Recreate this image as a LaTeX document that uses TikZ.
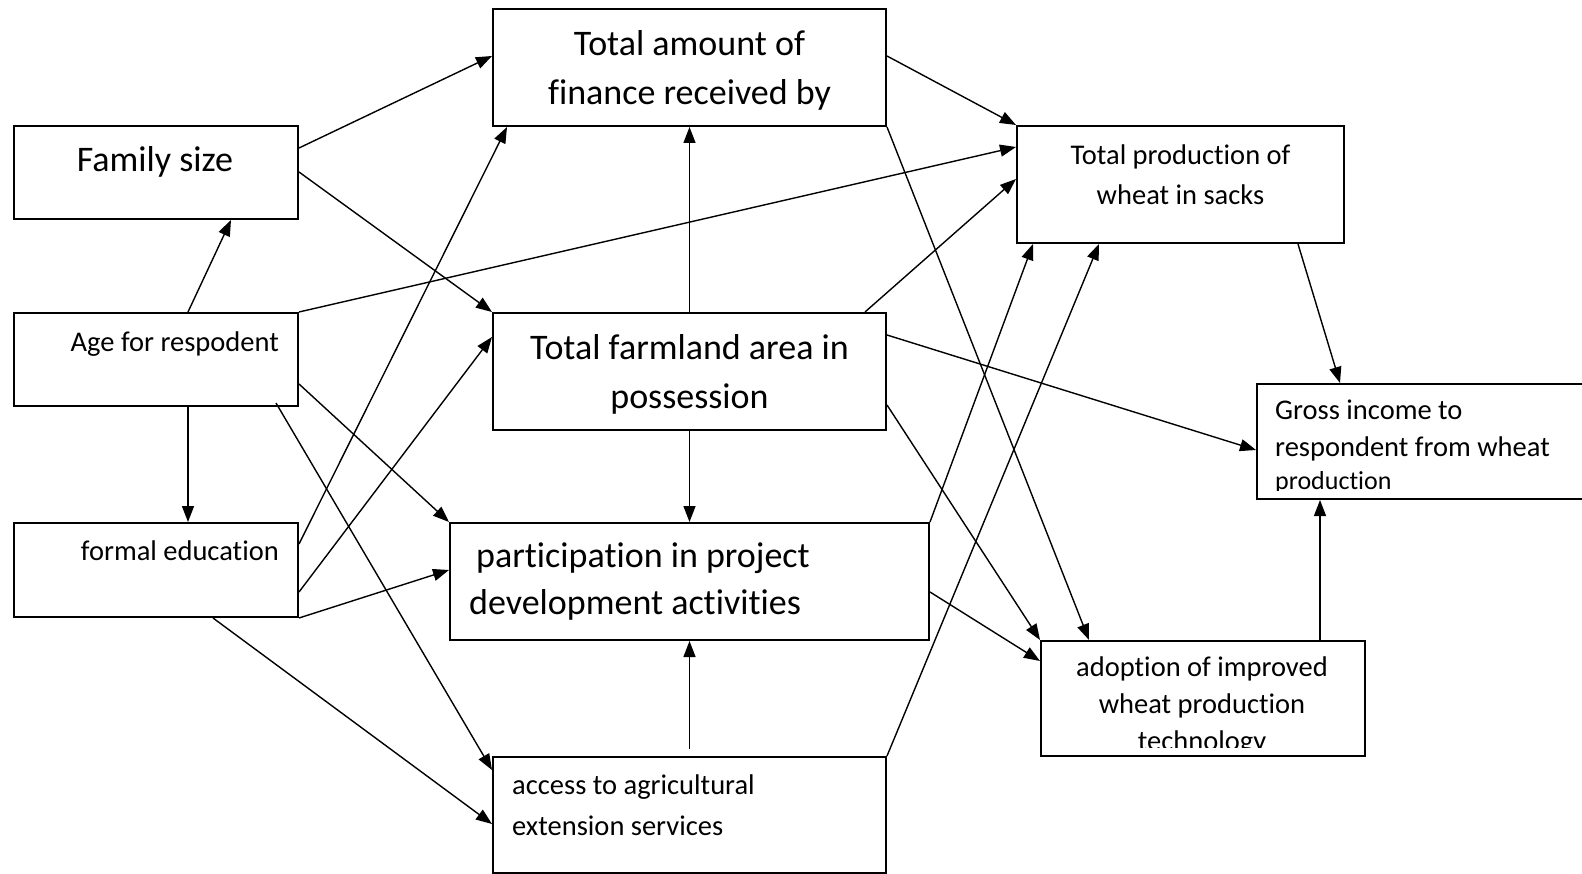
\documentclass[tikz,border=0pt]{standalone}
\usepackage{fontspec}
\setmainfont{Carlito}[Ligatures = NoCommon]
\usetikzlibrary{positioning, calc, arrows.meta}
\tikzstyle{pixels} = [x = 1pt, y = -1pt]
\tikzstyle{boxStyle} = [draw, line width = 2pt, inner sep = 0pt]
\tikzstyle{linkStyle} = [line width = 1.4pt, -{Triangle[length = 16pt, width = 12pt]}]
\tikzstyle{bigText} = [font = \fontsize{36}{49}\selectfont, inner sep = 0pt]
\tikzstyle{smallText} = [font = \fontsize{28.5}{39}\selectfont, inner sep = 0pt]
\newcommand{\variableBox}[5]{\node [boxStyle, minimum width = #4pt, minimum height = #5pt] (#1) at (#2, #3) {};}
\newcommand{\causalLink}[2]{\draw [linkStyle] (#1) -- (#2);}

\begin{document}
\begin{tikzpicture}[pixels]
  \useasboundingbox (0,0) rectangle (1582,874);
  % boxes
  \variableBox{fam}{156}{172.5}{284}{93}
  \variableBox{age}{156}{359.5}{284}{93}
  \variableBox{edu}{156}{570}{284}{94}
  \variableBox{fin}{689.5}{67.5}{393}{117}
  \variableBox{farm}{689.5}{371.5}{393}{117}
  \variableBox{part}{689.5}{581.5}{479}{117}
  \variableBox{ext}{689.5}{815}{393}{116}
  \variableBox{prod}{1180.5}{184.5}{327}{117}
  \variableBox{gross}{1424.5}{441.5}{335}{115}
  \variableBox{adopt}{1203}{698.5}{324}{115}

  % texts (base = baseline of the last line)
  \node [bigText, anchor = base] (famText) at ($(fam.north)+(-1,47)$) {Family size};
  \node [smallText, anchor = base east] (ageText) at ($(age.north east)+(-20,40)$) {Age for respodent};
  \node [smallText, anchor = base east] (eduText) at ($(edu.north east)+(-20,38)$) {formal education};
  \node [bigText, anchor = base, align = center] (finText) at ($(fin.north)+(0,97)$) {Total amount of\\finance received by};
  \node [bigText, anchor = base, align = center] (farmText) at ($(farm.north)+(0,97)$) {Total farmland area in\\possession};
  \node [bigText, anchor = base west, align = left, font = \fontsize{36}{47}\selectfont] (partText) at ($(part.north west)+(20,92)$) {\hspace{7pt}participation in project\\development activities};
  \node [smallText, anchor = base west, align = left, font = \fontsize{28.5}{41}\selectfont] (extText) at ($(ext.north west)+(20,79)$) {access to agricultural\\extension services};
  \node [smallText, anchor = base, align = center, font = \fontsize{28.5}{40}\selectfont] (prodText) at ($(prod.north)+(0,80)$) {Total production of\\wheat in sacks};
  \begin{scope}
    \clip (gross.north west) rectangle ($(gross.south east)+(0,-10)$);
    \node [smallText, anchor = base west, align = left, font = \fontsize{28.5}{33}\selectfont] (grossText) at ($(gross.north west)+(19,106)$) {Gross income to\\[4pt]respondent from wheat\\\fontsize{26}{33}\selectfont production};
  \end{scope}
  \begin{scope}
    \clip (adopt.north west) rectangle ($(adopt.south east)+(0,-10)$);
    \node [smallText, anchor = base, align = center, font = \fontsize{28.5}{37}\selectfont] (adoptText) at ($(adopt.north)+(-1,110)$) {adoption of improved\\wheat production\\technology};
  \end{scope}

  % links
  \causalLink{$(fam.north east)+(0,23)$}{$(fin.north west)+(0,48)$}
  \causalLink{$(fam.north east)+(0,47)$}{farm.north west}
  \causalLink{$(age.north west)+(175,0)$}{$(fam.south west)+(218,0)$}
  \causalLink{age.north east}{$(prod.north west)+(0,22)$}
  \causalLink{$(age.south west)+(175,0)$}{$(edu.north west)+(175,0)$}
  \causalLink{$(age.north east)+(0,72)$}{part.north west}
  \causalLink{$(age.south east)+(-23,-4)$}{$(ext.north west)+(0,14)$}
  \causalLink{$(edu.north east)+(0,22)$}{$(fin.south west)+(15,0)$}
  \causalLink{$(edu.north east)+(0,70)$}{$(farm.north west)+(0,25)$}
  \causalLink{edu.south east}{$(part.north west)+(0,48)$}
  \causalLink{$(edu.south west)+(200,0)$}{$(ext.north west)+(0,68)$}
  \causalLink{farm.north}{fin.south}
  \causalLink{farm.south}{part.north}
  \causalLink{$(ext.north)+(0,-7)$}{part.south}
  \causalLink{$(fin.north east)+(0,48)$}{prod.north west}
  \causalLink{fin.south east}{$(adopt.north west)+(49,0)$}
  \causalLink{$(farm.north east)+(-22,0)$}{$(prod.north west)+(0,54)$}
  \causalLink{$(farm.north east)+(0,23)$}{$(gross.north west)+(0,67)$}
  \causalLink{$(farm.north east)+(0,93)$}{adopt.north west}
  \causalLink{part.north east}{$(prod.south west)+(17,0)$}
  \causalLink{$(part.north east)+(0,70)$}{$(adopt.north west)+(0,21)$}
  \causalLink{ext.north east}{$(prod.south west)+(83,0)$}
  \causalLink{$(prod.south west)+(282,0)$}{$(gross.north west)+(84,0)$}
  \causalLink{$(adopt.north west)+(280,0)$}{$(gross.south west)+(64,0)$}
\end{tikzpicture}
\end{document}
